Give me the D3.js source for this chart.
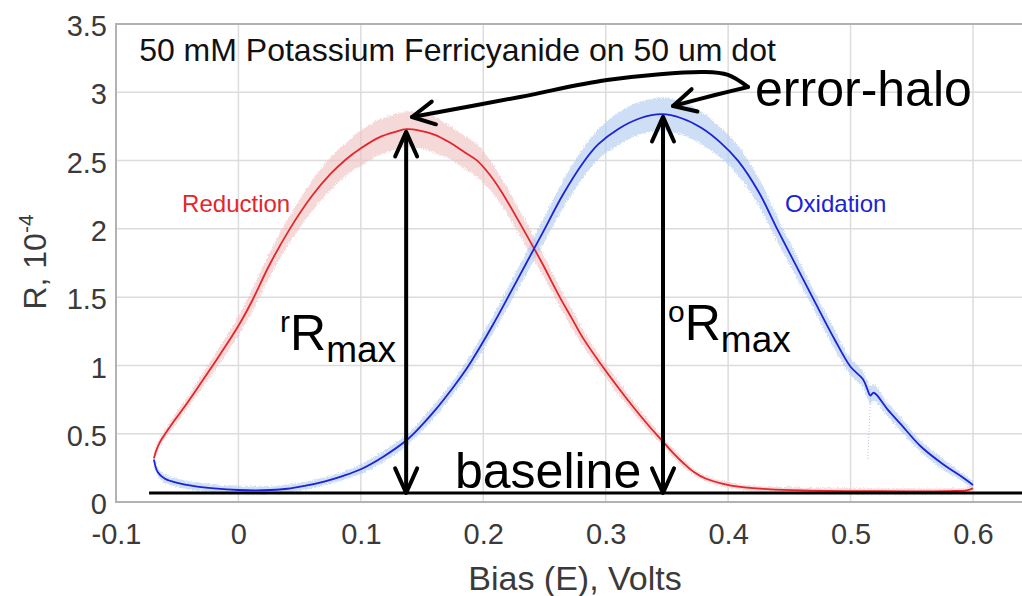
<!DOCTYPE html>
<html>
<head>
<meta charset="utf-8">
<script src="https://cdn.jsdelivr.net/npm/d3@7"></script>
<style>
  body { margin: 0; background: #fff; }
  svg { display: block; font-family: "Liberation Sans", Arial, Helvetica, sans-serif; }
</style>
</head>
<body>
<div id="chart"></div>
<script>
// bias (V) and R (x1e-4)
const redBias = [-0.069, -0.067, -0.064, -0.059, -0.052, -0.043, -0.030, -0.015, 0.000, 0.011,
  0.025, 0.042, 0.060, 0.075, 0.088, 0.100, 0.115, 0.128, 0.137, 0.148,
  0.160, 0.173, 0.185, 0.195, 0.205, 0.215, 0.2325, 0.248, 0.2625, 0.272,
  0.2815, 0.296, 0.310, 0.323, 0.335, 0.346, 0.355, 0.364, 0.372, 0.382,
  0.395, 0.410, 0.432, 0.460, 0.500, 0.550, 0.580, 0.595, 0.600];
const redR = [0.32, 0.38, 0.44, 0.51, 0.60, 0.71, 0.88, 1.08, 1.29, 1.47,
  1.73, 2.00, 2.24, 2.40, 2.51, 2.59, 2.67, 2.71, 2.73, 2.72,
  2.69, 2.63, 2.56, 2.50, 2.40, 2.27, 2.00, 1.75, 1.50, 1.35,
  1.20, 1.01, 0.84, 0.69, 0.56, 0.45, 0.36, 0.28, 0.22, 0.17,
  0.135, 0.11, 0.095, 0.085, 0.08, 0.078, 0.08, 0.085, 0.10];
const redErr = [0.02, 0.03, 0.03, 0.03, 0.04, 0.04, 0.05, 0.06, 0.07, 0.08,
  0.09, 0.10, 0.11, 0.12, 0.12, 0.13, 0.13, 0.13, 0.13, 0.13,
  0.13, 0.12, 0.12, 0.12, 0.11, 0.10, 0.09, 0.08, 0.07, 0.07,
  0.06, 0.05, 0.05, 0.04, 0.04, 0.03, 0.03, 0.03, 0.02, 0.02,
  0.02, 0.02, 0.02, 0.02, 0.02, 0.02, 0.02, 0.02, 0.02];

const blueBias = [-0.069, -0.066, -0.060, -0.050, -0.035, -0.020, 0.000, 0.020, 0.040, 0.055,
  0.070, 0.085, 0.100, 0.118, 0.137, 0.150, 0.160, 0.175, 0.187, 0.197,
  0.208, 0.219, 0.234, 0.249, 0.265, 0.282, 0.294, 0.310, 0.328, 0.346,
  0.362, 0.378, 0.394, 0.408, 0.425, 0.440, 0.455, 0.470, 0.487, 0.500,
  0.510, 0.514, 0.516, 0.519, 0.530, 0.541, 0.557, 0.575, 0.590, 0.600];
const blueR = [0.31, 0.22, 0.17, 0.14, 0.115, 0.10, 0.088, 0.086, 0.097, 0.12,
  0.15, 0.19, 0.24, 0.33, 0.45, 0.565, 0.665, 0.835, 0.985, 1.13,
  1.30, 1.48, 1.73, 1.98, 2.25, 2.49, 2.62, 2.73, 2.81, 2.84,
  2.81, 2.74, 2.63, 2.50, 2.27, 2.00, 1.74, 1.48, 1.19, 0.99,
  0.90, 0.82, 0.78, 0.80, 0.68, 0.57, 0.41, 0.28, 0.19, 0.125];
const blueErr = [0.03, 0.03, 0.03, 0.03, 0.03, 0.03, 0.03, 0.03, 0.03, 0.03,
  0.03, 0.03, 0.035, 0.04, 0.04, 0.045, 0.05, 0.05, 0.055, 0.06,
  0.06, 0.07, 0.08, 0.09, 0.10, 0.11, 0.11, 0.12, 0.12, 0.12,
  0.12, 0.12, 0.11, 0.11, 0.10, 0.09, 0.08, 0.07, 0.07, 0.06,
  0.06, 0.06, 0.06, 0.06, 0.05, 0.05, 0.04, 0.04, 0.03, 0.03];

// faint stray trace under the oxidation glitch
const strayBias = [0.516, 0.516, 0.515, 0.514];
const strayR = [0.85, 0.70, 0.50, 0.31];

const xTicks = [-0.1, 0, 0.1, 0.2, 0.3, 0.4, 0.5, 0.6];
const xTickLabels = ["-0.1", "0", "0.1", "0.2", "0.3", "0.4", "0.5", "0.6"];
const yTicks = [0, 0.5, 1, 1.5, 2, 2.5, 3, 3.5];
const yTickLabels = ["0", "0.5", "1", "1.5", "2", "2.5", "3", "3.5"];

const baselineR = 0.066;
const rPeak = [0.137, 2.71];
const oPeak = [0.3468, 2.82];

const width = 1022, height = 596;
const x = d3.scaleLinear().domain([-0.1, 0.65]).range([116, 1034.2]);
const y = d3.scaleLinear().domain([0, 3.5]).range([502, 24]);

const svg = d3.select("#chart").append("svg")
  .attr("width", width)
  .attr("height", height);

const defs = svg.append("defs");
const rough = defs.append("filter").attr("id", "rough")
  .attr("x", "-5%").attr("y", "-5%").attr("width", "110%").attr("height", "110%");
rough.append("feTurbulence").attr("type", "fractalNoise")
  .attr("baseFrequency", 0.9).attr("numOctaves", 2).attr("seed", 4).attr("result", "n");
rough.append("feDisplacementMap").attr("in", "SourceGraphic").attr("in2", "n")
  .attr("scale", 5).attr("xChannelSelector", "R").attr("yChannelSelector", "G");

// grid
svg.append("g").selectAll("line").data(xTicks.slice(1)).join("line")
  .attr("x1", d => x(d)).attr("x2", d => x(d))
  .attr("y1", y(0)).attr("y2", y(3.5))
  .attr("stroke", "#dcdcdc").attr("stroke-width", 1.5);
svg.append("g").selectAll("line").data(yTicks.slice(1, -1)).join("line")
  .attr("x1", x(-0.1)).attr("x2", width)
  .attr("y1", d => y(d)).attr("y2", d => y(d))
  .attr("stroke", "#dcdcdc").attr("stroke-width", 1.5);

// frame
svg.append("path")
  .attr("d", `M${width},${y(3.5)}H${x(-0.1)}V${y(0)}H${width}`)
  .attr("fill", "none").attr("stroke", "#b2b2b2").attr("stroke-width", 2);

// axes (labels only)
const xAxis = svg.append("g")
  .attr("transform", `translate(0,${y(0)})`)
  .call(d3.axisBottom(x).tickValues(xTicks).tickFormat((d, i) => xTickLabels[i]).tickSize(0).tickPadding(21));
const yAxis = svg.append("g")
  .attr("transform", `translate(${x(-0.1)},0)`)
  .call(d3.axisLeft(y).tickValues(yTicks).tickFormat((d, i) => yTickLabels[i]).tickSize(0).tickPadding(9));
[xAxis, yAxis].forEach(g => {
  g.select(".domain").remove();
  g.selectAll("text").attr("font-size", 29).attr("fill", "#3a3a3a")
    .attr("font-family", "'Liberation Sans', Arial, sans-serif");
});
yAxis.selectAll("text").attr("dy", "0.4em");

svg.append("text")
  .attr("x", 575).attr("y", 590)
  .attr("text-anchor", "middle")
  .attr("font-size", 34).attr("fill", "#3a3a3a")
  .text("Bias (E), Volts");

const yTitle = svg.append("text")
  .attr("transform", "translate(46,262) rotate(-90)")
  .attr("text-anchor", "middle")
  .attr("font-size", 32).attr("fill", "#3a3a3a");
yTitle.append("tspan").text("R, 10");
yTitle.append("tspan").attr("font-size", 21).attr("dy", -13).text("-4");

// halos
const series = [
  { bias: redBias, r: redR, err: redErr, halo: "#efc0c0", line: "#e3262b" },
  { bias: blueBias, r: blueR, err: blueErr, halo: "#acc9f0", line: "#1c22d6" }
];

const smooth = d3.curveCatmullRom.alpha(0.5);
const halo = d3.area()
  .x(d => x(d.b))
  .y0(d => y(d.r - d.e))
  .y1(d => y(d.r + d.e))
  .curve(smooth);
const line = d3.line()
  .x(d => x(d.b))
  .y(d => y(d.r))
  .curve(smooth);

series.forEach(s => {
  const pts = s.bias.map((b, i) => ({ b: b, r: s.r[i], e: s.err[i] }));
  svg.append("path").datum(pts)
    .attr("d", halo)
    .attr("fill", s.halo).attr("opacity", 0.6)
    .attr("filter", "url(#rough)");
});

svg.append("path")
  .datum(strayBias.map((b, i) => ({ b: b, r: strayR[i] })))
  .attr("d", d3.line().x(d => x(d.b)).y(d => y(d.r)))
  .attr("fill", "none").attr("stroke", "#aebfe0").attr("stroke-width", 1)
  .attr("stroke-dasharray", "1,2");

series.forEach(s => {
  const pts = s.bias.map((b, i) => ({ b: b, r: s.r[i] }));
  svg.append("path").datum(pts)
    .attr("d", line)
    .attr("fill", "none").attr("stroke", s.line).attr("stroke-width", 1.8);
});

// series labels
svg.append("text").attr("x", x(-0.046)).attr("y", y(2.123))
  .attr("font-size", 24).attr("fill", "#e3262b").text("Reduction");
svg.append("text").attr("x", x(0.4464)).attr("y", y(2.123))
  .attr("font-size", 24).attr("fill", "#1c22d6").text("Oxidation");

svg.append("text").attr("x", x(-0.0811)).attr("y", y(3.229))
  .attr("font-size", 32).attr("fill", "#111")
  .text("50 mM Potassium Ferricyanide on 50 um dot");

// annotations
const ann = svg.append("g").attr("fill", "none").attr("stroke", "#000")
  .attr("stroke-width", 4).attr("stroke-linecap", "round").attr("stroke-linejoin", "round");

ann.append("line")
  .attr("x1", x(-0.073)).attr("x2", width)
  .attr("y1", y(baselineR)).attr("y2", y(baselineR))
  .attr("stroke-width", 3).attr("stroke-linecap", "butt");

function head(tip, from, len, half) {
  const a = Math.atan2(from[1] - tip[1], from[0] - tip[0]);
  const p1 = [tip[0] + len * Math.cos(a - half), tip[1] + len * Math.sin(a - half)];
  const p2 = [tip[0] + len * Math.cos(a + half), tip[1] + len * Math.sin(a + half)];
  ann.append("path").attr("d", `M${p1}L${tip}L${p2}`);
}

[rPeak, oPeak].forEach(p => {
  const top = [x(p[0]), y(p[1])];
  const bot = [x(p[0]), y(baselineR)];
  ann.append("line").attr("x1", top[0]).attr("x2", bot[0]).attr("y1", top[1] + 2).attr("y2", bot[1] - 2);
  head(top, bot, 27, 0.42);
  head(bot, top, 27, 0.42);
});

const haloArrows = [
  { bias: [0.4162, 0.3999, 0.3811, 0.3011, 0.2300, 0.1418], r: [3.039, 3.127, 3.148, 3.090, 2.966, 2.819] },
  { bias: [0.4162, 0.3893, 0.3550], r: [3.039, 2.980, 2.900] }
];
haloArrows.forEach(a => {
  const pts = a.bias.map((b, i) => [x(b), y(a.r[i])]);
  ann.append("path").attr("d", d3.line().curve(d3.curveCatmullRom)(pts));
  head(pts[pts.length - 1], pts[pts.length - 2], 25, 0.48);
});

svg.append("text").attr("x", x(0.422)).attr("y", y(2.90))
  .attr("font-size", 50).attr("fill", "#000").text("error-halo");
svg.append("text").attr("x", x(0.1769)).attr("y", y(0.1025))
  .attr("font-size", 50).attr("fill", "#000").text("baseline");

function rmax(sup, bias, r) {
  const t = svg.append("text").attr("x", x(bias)).attr("y", y(r)).attr("fill", "#000");
  t.append("tspan").attr("font-size", 30).attr("dy", -18).text(sup);
  t.append("tspan").attr("font-size", 50).attr("dy", 18).text("R");
  t.append("tspan").attr("font-size", 37).attr("dy", 12).text("max");
}
rmax("r", 0.034, 1.113);
rmax("o", 0.3509, 1.186);
</script>
</body>
</html>
